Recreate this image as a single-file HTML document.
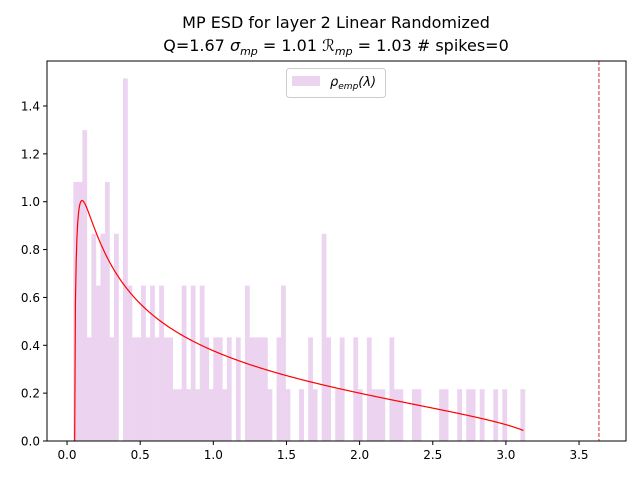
<!DOCTYPE html>
<html><head><meta charset="utf-8"><style>
body{margin:0;background:#fff;}
svg{display:block;font-family:"DejaVu Sans","Liberation Sans",sans-serif;}
</style></head><body>
<svg id="chart" width="640" height="480" viewBox="0 0 640 480" xmlns="http://www.w3.org/2000/svg">
<rect width="640" height="480" fill="#fff"/>
<text x="336" y="28" font-size="16" text-anchor="middle">MP ESD for layer 2 Linear Randomized</text>
<text x="336" y="51" font-size="16" text-anchor="middle">Q=1.67 <tspan font-style="italic">σ</tspan><tspan font-size="11" dy="4" font-style="italic">mp</tspan><tspan dy="-4"> = 1.01 </tspan><tspan font-style="italic">ℛ</tspan><tspan font-size="11" dy="4" font-style="italic">mp</tspan><tspan dy="-4"> = 1.03 # spikes=0</tspan></text>
<g id="bars"></g>
<g id="curve"></g>
<g id="axes"></g>
<g>
<rect x="286.5" y="68.5" width="99" height="29" rx="3" fill="#fff" stroke="#ccc"/>
<rect x="292" y="76" width="28" height="10" fill="#ecd4f1"/>
<text x="330" y="86" font-size="13"><tspan font-style="italic">ρ</tspan><tspan font-size="9" dy="3" font-style="italic">emp</tspan><tspan dy="-3" font-style="italic">(λ)</tspan></text>
</g>
</svg>
<script>
const binStart = 0.043;
const binEnd = 3.13;
const counts = [5,5,6,2,4,3,4,5,2,4,0,7,3,2,2,3,2,3,2,3,2,2,1,1,3,1,3,1,3,2,1,2,
2,1,2,0,2,0,3,2,2,2,2,1,0,2,3,1,0,0,1,0,2,1,0,4,2,0,1,2,0,0,2,1,0,2,
1,1,1,0,2,1,1,0,0,1,1,0,0,0,0,1,1,0,0,1,0,1,1,0,1,0,0,1,0,1,0,0,0,1];
const densityUnit = 0.2165;
const Q = 1.67, sigma = 1.01, lamMax = 3.12;
const redLineX = 3.636;
const xTicks = [0,0.5,1.0,1.5,2.0,2.5,3.0,3.5];
const yTicks = [0,0.2,0.4,0.6,0.8,1.0,1.2,1.4];
const xTickLabels = ["0.0","0.5","1.0","1.5","2.0","2.5","3.0","3.5"];
const yTickLabels = ["0.0","0.2","0.4","0.6","0.8","1.0","1.2","1.4"];

const L=47,R=626,T=61,B=441;
const xMin=-0.137,xMax=3.821,yMax=1.588;
const X=v=>L+(v-xMin)/(xMax-xMin)*(R-L);
const Y=v=>B-v/yMax*(B-T);
const NS="http://www.w3.org/2000/svg";
function mk(tag,attrs,parent){const e=document.createElementNS(NS,tag);for(const k in attrs)e.setAttribute(k,attrs[k]);parent.appendChild(e);return e;}

const bars=document.getElementById('bars');
const w=(binEnd-binStart)/counts.length;
counts.forEach((c,i)=>{
  if(!c)return;
  const x0=X(binStart+i*w),x1=X(binStart+(i+1)*w),h=c*densityUnit;
  const r=mk('rect',{x:x0,y:Y(h),width:x1-x0+0.3,height:B-Y(h),fill:'#ecd4f1'},bars);
  
  
});

const cg=document.getElementById('curve');
const s2=sigma*sigma,lp=s2*Math.pow(1+1/Math.sqrt(Q),2),lm=s2*Math.pow(1-1/Math.sqrt(Q),2);
let d='';
for(let i=0;i<=600;i++){
  const l=lm+(lamMax-lm)*Math.pow(i/600,1.0);
  const v=Q/(2*Math.PI*s2*l)*Math.sqrt(Math.max(0,(lp-l)*(l-lm)));
  d+=(i?'L':'M')+X(l).toFixed(2)+','+Y(v).toFixed(2);
}
const p=mk('path',{d:d,fill:'none',stroke:'#ff0000','stroke-width':1.2},cg);


const rl=mk('line',{x1:X(redLineX),x2:X(redLineX),y1:T,y2:B,stroke:'#d62728','stroke-width':1,'stroke-dasharray':'4,2'},cg);



const ax=document.getElementById('axes');
mk('rect',{x:L,y:T,width:R-L,height:B-T,fill:'none',stroke:'#000','stroke-width':1},ax);
xTicks.forEach((t,i)=>{
  const x=X(t);
  mk('line',{x1:x,x2:x,y1:B,y2:B+4,stroke:'#000'},ax);
  const tx=mk('text',{x:x,y:B+18,'font-size':12,'text-anchor':'middle'},ax);
  tx.textContent=xTickLabels[i];
  
  
});
yTicks.forEach((t,i)=>{
  const y=Y(t);
  mk('line',{x1:L-4,x2:L,y1:y,y2:y,stroke:'#000'},ax);
  const tx=mk('text',{x:L-7,y:y+4.5,'font-size':12,'text-anchor':'end'},ax);
  tx.textContent=yTickLabels[i];
  
  
});
</script>
</body></html>
